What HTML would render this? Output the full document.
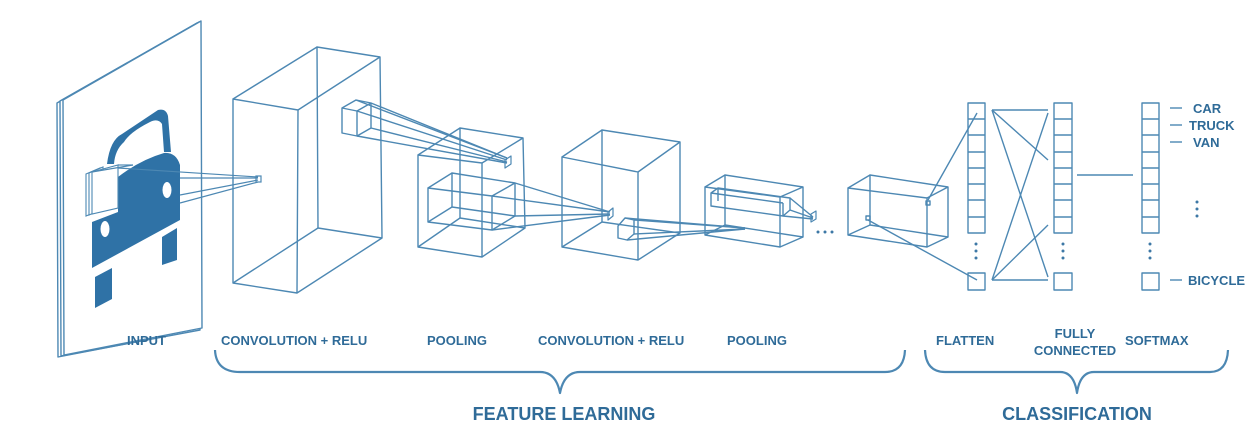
<!DOCTYPE html>
<html><head><meta charset="utf-8"><style>
html,body{margin:0;padding:0;background:#fff;}
svg{display:block;}
text{font-family:"Liberation Sans",sans-serif;font-weight:bold;fill:#2f6b98;}
</style></head><body>
<svg width="1260" height="439" viewBox="0 0 1260 439" xmlns="http://www.w3.org/2000/svg">
<g fill="none" stroke="#4d88b3" stroke-width="1.4" stroke-linejoin="round">
<!-- input sheets -->
<polygon points="57,103 197,23 198,330 58,357" fill="#fff"/>
<polygon points="60,101 199,22 200,330 61,356" fill="#fff"/>
<polygon points="63,100 201,21 202,328 64,355" fill="#fff"/>
<!-- conv1 box -->
<polygon points="233,99 298,110 297,293 233,283"/>
<polygon points="317,47 380,57 382,238 318,228"/>
<line x1="233" y1="99" x2="317" y2="47"/><line x1="298" y1="110" x2="380" y2="57"/>
<line x1="297" y1="293" x2="382" y2="238"/><line x1="233" y1="283" x2="318" y2="228"/>
<!-- prism in conv1 -->
<polygon points="342,108 356,100 371,103 371,128 357,136 342,133"/>
<line x1="342" y1="108" x2="357" y2="111"/><line x1="357" y1="111" x2="371" y2="103"/><line x1="357" y1="111" x2="357" y2="136"/>
<line x1="356" y1="100" x2="507" y2="158"/><line x1="371" y1="103" x2="507" y2="158"/><line x1="357" y1="111" x2="507" y2="160"/><line x1="371" y1="128" x2="507" y2="162"/><line x1="357" y1="136" x2="507" y2="163"/>
<!-- pool1 -->
<polygon points="418,155 482,163 482,257 418,247"/>
<polygon points="460,128 523,138 525,228 460,218"/>
<line x1="418" y1="155" x2="460" y2="128"/><line x1="482" y1="163" x2="523" y2="138"/>
<line x1="482" y1="257" x2="525" y2="228"/><line x1="418" y1="247" x2="460" y2="218"/>
<polygon points="505,160 511,156 511,164 505,168" stroke-width="1.2"/>
<!-- inner prism pool1 -->
<polygon points="428,188 492,196 492,230 428,222"/>
<polygon points="452,173 515,183 515,216 452,207"/>
<line x1="428" y1="188" x2="452" y2="173"/><line x1="492" y1="196" x2="515" y2="183"/>
<line x1="492" y1="230" x2="515" y2="216"/><line x1="428" y1="222" x2="452" y2="207"/>
<line x1="492" y1="196" x2="610" y2="212"/><line x1="515" y1="183" x2="610" y2="212"/><line x1="515" y1="216" x2="610" y2="214"/><line x1="492" y1="230" x2="610" y2="215"/>
<!-- conv2 -->
<polygon points="562,157 638,172 638,260 562,247"/>
<polygon points="602,130 680,142 680,233 602,222"/>
<line x1="562" y1="157" x2="602" y2="130"/><line x1="638" y1="172" x2="680" y2="142"/>
<line x1="638" y1="260" x2="680" y2="233"/><line x1="562" y1="247" x2="602" y2="222"/>
<polygon points="608,212 613,208 613,216 608,220" stroke-width="1.2"/>
<!-- prism conv2 -->
<polygon points="618,226 625,218 634,220 634,234 627,240 618,238"/>
<line x1="625" y1="218" x2="745" y2="228"/><line x1="634" y1="220" x2="745" y2="228"/><line x1="634" y1="234" x2="745" y2="229"/><line x1="627" y1="240" x2="745" y2="229"/>
<!-- pool2 -->
<polygon points="705,187 780,197 780,247 705,235"/>
<polygon points="725,175 803,187 803,237 725,225"/>
<line x1="705" y1="187" x2="725" y2="175"/><line x1="780" y1="197" x2="803" y2="187"/>
<line x1="780" y1="247" x2="803" y2="237"/><line x1="705" y1="235" x2="725" y2="225"/>
<polygon points="711,193 718,188 790,198 790,210 783,216 711,206"/>
<line x1="718" y1="188" x2="718" y2="201"/><line x1="711" y1="193" x2="783" y2="203"/><line x1="783" y1="203" x2="783" y2="216"/>
<line x1="790" y1="198" x2="813" y2="217"/><line x1="783" y1="216" x2="813" y2="219"/><line x1="790" y1="210" x2="813" y2="218"/>
<polygon points="811,214 816,211 816,219 811,222" stroke-width="1.2"/>
<!-- pool3 -->
<polygon points="848,188 927,198 927,247 848,235"/>
<polygon points="870,175 948,187 948,237 870,225"/>
<line x1="848" y1="188" x2="870" y2="175"/><line x1="927" y1="198" x2="948" y2="187"/>
<line x1="927" y1="247" x2="948" y2="237"/><line x1="848" y1="235" x2="870" y2="225"/>
<rect x="926" y="201" width="4" height="4"/><rect x="866" y="216" width="4" height="4"/>
<line x1="928" y1="200" x2="977" y2="113"/><line x1="868" y1="220" x2="977" y2="280"/>
<!-- columns -->
<rect x="968" y="103" width="17" height="130"/>
<rect x="1054" y="103" width="18" height="130"/>
<rect x="1142" y="103" width="17" height="130"/>
<path d="M968 119H985M968 135H985M968 152H985M968 168H985M968 184H985M968 200H985M968 217H985"/>
<path d="M1054 119H1072M1054 135H1072M1054 152H1072M1054 168H1072M1054 184H1072M1054 200H1072M1054 217H1072"/>
<path d="M1142 119H1159M1142 135H1159M1142 152H1159M1142 168H1159M1142 184H1159M1142 200H1159M1142 217H1159"/>
<rect x="968" y="273" width="17" height="17"/>
<rect x="1054" y="273" width="18" height="17"/>
<rect x="1142" y="273" width="17" height="17"/>
<line x1="992" y1="110" x2="1048" y2="110"/><line x1="992" y1="110" x2="1048" y2="160"/><line x1="992" y1="110" x2="1048" y2="277"/>
<line x1="992" y1="280" x2="1048" y2="280"/><line x1="992" y1="280" x2="1048" y2="113"/><line x1="992" y1="280" x2="1048" y2="225"/>
<line x1="1077" y1="175" x2="1133" y2="175"/>
<line x1="1170" y1="108" x2="1182" y2="108"/><line x1="1170" y1="125" x2="1182" y2="125"/><line x1="1170" y1="142" x2="1182" y2="142"/><line x1="1170" y1="280" x2="1182" y2="280"/>
<!-- braces -->
<path d="M215 350 Q216 372 240 372 H540 Q556 372 560 393 Q564 372 580 372 H885 Q904 372 905 350" stroke-width="2.2"/>
<path d="M925 350 Q926 372 945 372 H1060 Q1074 372 1077 393 Q1080 372 1094 372 H1210 Q1227 372 1228 350" stroke-width="2.2"/>
</g>
<!-- dots -->
<g fill="#3d78a6">
<circle cx="818" cy="232" r="1.5"/><circle cx="825" cy="232" r="1.5"/><circle cx="832" cy="232" r="1.5"/>
<circle cx="976" cy="244" r="1.5"/><circle cx="976" cy="251" r="1.5"/><circle cx="976" cy="258" r="1.5"/>
<circle cx="1063" cy="244" r="1.5"/><circle cx="1063" cy="251" r="1.5"/><circle cx="1063" cy="258" r="1.5"/>
<circle cx="1150" cy="244" r="1.5"/><circle cx="1150" cy="251" r="1.5"/><circle cx="1150" cy="258" r="1.5"/>
<circle cx="1197" cy="202" r="1.5"/><circle cx="1197" cy="209" r="1.5"/><circle cx="1197" cy="216" r="1.5"/>
</g>
<!-- car -->
<g fill="#2f72a6">
<path d="M107 164 Q110 140 122 134 Q140 122 158 110 Q166 108 168 116 L171 152 L164 152 L162 124 Q158 118 150 122 Q130 132 124 142 Q115 150 114 164 Z"/>
<path d="M92 222 L92 268 L180 220 L180 165 Q176 152 164 153 Q140 160 118 177 L118 212 Z"/>
<polygon points="95,277 112,268 112,299 95,308"/>
<polygon points="162,237 177,228 177,260 162,265"/>
</g>
<g fill="#fff"><ellipse cx="167" cy="190" rx="4.5" ry="8"/><ellipse cx="105" cy="229" rx="4.5" ry="8"/></g>
<g fill="#fff" stroke="#4d88b3" stroke-width="1.1">
<polygon points="86,174 100,168 100,210 86,216"/>
<polygon points="89,173 103,167 103,209 89,215"/>
<polygon points="92,172 118,165 118,208 92,214"/>
</g>
<g stroke="#4d88b3" stroke-width="1.2" fill="none">
<line x1="92" y1="172" x2="133" y2="165"/><line x1="118" y1="165" x2="133" y2="165"/>
<line x1="118" y1="168" x2="258" y2="177"/><line x1="180" y1="178" x2="258" y2="178"/><line x1="180" y1="195" x2="258" y2="180"/><line x1="180" y1="203" x2="258" y2="182"/>
<rect x="256" y="176" width="5" height="6"/>
</g>
<!-- labels -->
<g font-size="13">
<text x="127" y="345">INPUT</text>
<text x="221" y="345">CONVOLUTION + RELU</text>
<text x="427" y="345">POOLING</text>
<text x="538" y="345">CONVOLUTION + RELU</text>
<text x="727" y="345">POOLING</text>
<text x="936" y="345">FLATTEN</text>
<text x="1075" y="338" text-anchor="middle">FULLY</text>
<text x="1075" y="355" text-anchor="middle">CONNECTED</text>
<text x="1125" y="345">SOFTMAX</text>
<text x="1193" y="113">CAR</text>
<text x="1189" y="130">TRUCK</text>
<text x="1193" y="147">VAN</text>
<text x="1188" y="285">BICYCLE</text>
</g>
<g font-size="18">
<text x="564" y="420" text-anchor="middle">FEATURE LEARNING</text>
<text x="1077" y="420" text-anchor="middle">CLASSIFICATION</text>
</g>
</svg>
</body></html>
